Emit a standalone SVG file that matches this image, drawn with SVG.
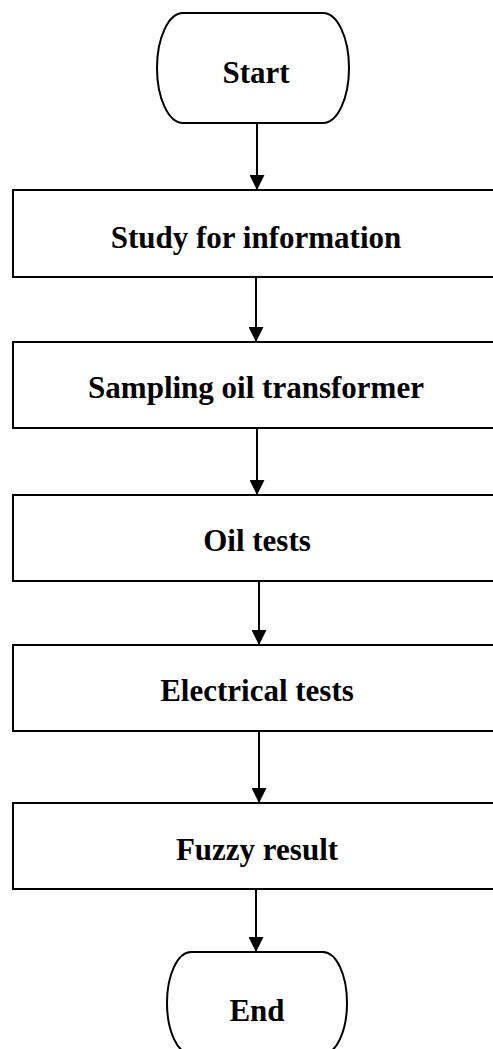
<svg xmlns="http://www.w3.org/2000/svg" width="493" height="1049" viewBox="0 0 493 1049">
<style>
.box{fill:#fff;stroke:#000;stroke-width:2}
.lbl{font-family:"Liberation Serif","Times New Roman",serif;font-weight:bold;font-size:31px;fill:#000;text-anchor:middle}
.con{stroke:#000;stroke-width:2;fill:none}
</style>
<defs>
<marker id="arr" markerWidth="15" markerHeight="15" refX="15" refY="7.5" orient="auto" markerUnits="userSpaceOnUse">
<path d="M0,0 L15,7.5 L0,15 Z" fill="#000"/>
</marker>
</defs>
<rect width="493" height="1049" fill="#fff"/>
<g id="connectors">
<line class="con" x1="257" y1="123" x2="257" y2="190" marker-end="url(#arr)"/>
<line class="con" x1="256" y1="277" x2="256" y2="342" marker-end="url(#arr)"/>
<line class="con" x1="257" y1="428" x2="257" y2="495" marker-end="url(#arr)"/>
<line class="con" x1="259" y1="581" x2="259" y2="645" marker-end="url(#arr)"/>
<line class="con" x1="259" y1="731" x2="259" y2="803" marker-end="url(#arr)"/>
<line class="con" x1="256" y1="889" x2="256" y2="952" marker-end="url(#arr)"/>
</g>
<g id="start">
<rect class="box" x="157" y="13" width="192" height="110" rx="26" ry="55"/>
<text class="lbl" x="256" y="83">Start</text>
</g>
<g id="study">
<rect class="box" x="13" y="190" width="490" height="87"/>
<text class="lbl" x="256" y="248">Study for information</text>
</g>
<g id="sampling">
<rect class="box" x="13" y="342" width="490" height="86"/>
<text class="lbl" x="256" y="398">Sampling oil transformer</text>
</g>
<g id="oil">
<rect class="box" x="13" y="495" width="490" height="86"/>
<text class="lbl" x="257" y="551">Oil tests</text>
</g>
<g id="electrical">
<rect class="box" x="13" y="645" width="490" height="86"/>
<text class="lbl" x="257" y="701">Electrical tests</text>
</g>
<g id="fuzzy">
<rect class="box" x="13" y="803" width="490" height="86"/>
<text class="lbl" x="257" y="860">Fuzzy result</text>
</g>
<g id="end">
<rect class="box" x="167" y="952" width="180" height="102" rx="24" ry="51"/>
<text class="lbl" x="257" y="1021">End</text>
</g>
</svg>
